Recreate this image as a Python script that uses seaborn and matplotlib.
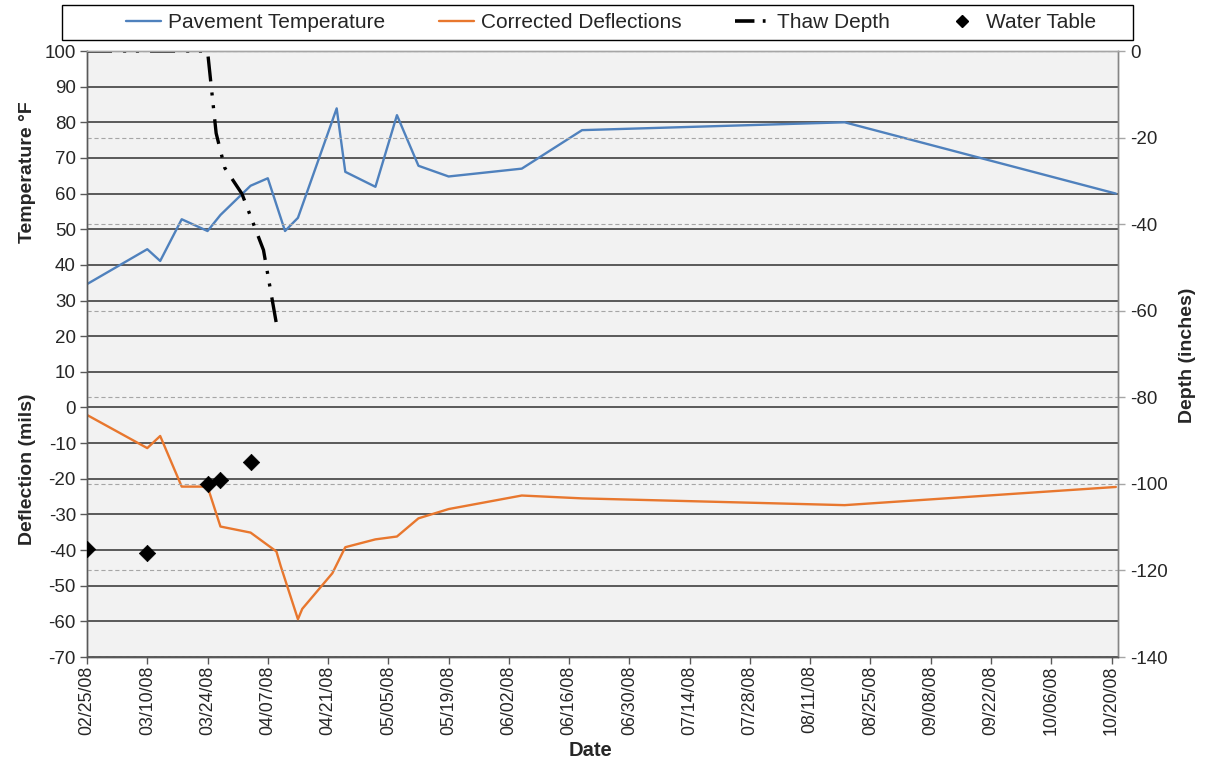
import matplotlib
matplotlib.use("Agg")
import matplotlib.pyplot as plt
import matplotlib.dates as mdates
from matplotlib.lines import Line2D
from matplotlib.patches import Rectangle
import seaborn as sns
import pandas as pd

# ---------------- data ----------------
temp_dates = ["2008-02-25", "2008-03-10", "2008-03-13", "2008-03-18", "2008-03-24",
              "2008-03-27", "2008-04-03", "2008-04-07", "2008-04-11", "2008-04-14",
              "2008-04-23", "2008-04-25", "2008-05-02", "2008-05-07", "2008-05-12",
              "2008-05-19", "2008-06-05", "2008-06-19", "2008-08-19", "2008-10-21"]
temp_values = [34.6, 44.4, 41.1, 52.8, 49.5, 54.0, 62.2, 64.3, 49.5, 53.2,
               83.9, 66.1, 61.9, 82.0, 67.8, 64.8, 67.0, 77.8, 80.0, 60.0]

defl_dates = ["2008-02-25", "2008-03-10", "2008-03-13", "2008-03-18", "2008-03-24",
              "2008-03-27", "2008-04-03", "2008-04-09", "2008-04-10", "2008-04-14",
              "2008-04-15", "2008-04-22", "2008-04-25", "2008-05-02", "2008-05-07",
              "2008-05-12", "2008-05-19", "2008-06-05", "2008-06-19", "2008-08-19",
              "2008-10-21"]
defl_values = [-2.1, -11.4, -8.0, -22.2, -22.2, -33.4, -35.1, -40.4, -44.5, -59.4,
               -56.5, -46.5, -39.2, -37.0, -36.2, -31.1, -28.5, -24.7, -25.5, -27.4,
               -22.3]

thaw_dates = ["2008-02-25", "2008-03-24", "2008-03-26", "2008-03-28", "2008-04-01",
              "2008-04-06", "2008-04-09"]
thaw_values = [0, 0, -19, -27, -33, -46, -63]

water_dates = ["2008-02-25", "2008-03-10", "2008-03-24", "2008-03-27", "2008-04-03"]
water_values = [-115, -116, -100, -99, -95]

x_start, x_end = "2008-02-25", "2008-10-21"
tick_dates = pd.date_range("2008-02-25", "2008-10-20", freq="14D")
left_ticks = list(range(-70, 101, 10))
right_ticks = list(range(-140, 1, 20))

# ---------------- style ----------------
sns.set_theme(style="white")
plt.rcParams["font.family"] = ["Liberation Sans", "DejaVu Sans"]
plt.rcParams["lines.scale_dashes"] = False
plt.rcParams["axes.unicode_minus"] = False

BLUE = "#4F81BD"
ORANGE = "#E8772E"
TXT = "#262626"

fig = plt.figure(figsize=(12.11, 7.65), dpi=100)
ax = fig.add_axes([87 / 1211, 1 - 657 / 765, (1118 - 87) / 1211, (657 - 51) / 765])
ax.set_facecolor("#F2F2F2")
ax2 = ax.twinx()
ax2.patch.set_visible(False)

td = pd.to_datetime(temp_dates)
dd = pd.to_datetime(defl_dates)
thd = pd.to_datetime(thaw_dates)
wd = pd.to_datetime(water_dates)

sns.lineplot(x=td, y=temp_values, ax=ax, color=BLUE, lw=1.7, sort=False)
sns.lineplot(x=dd, y=defl_values, ax=ax, color=ORANGE, lw=1.7, sort=False)
sns.lineplot(x=thd, y=thaw_values, ax=ax2, color="black", lw=2.4, sort=False)
thaw_line = ax2.get_lines()[-1]
thaw_line.set_linestyle((0, (18, 8, 2.2, 7, 2.2, 8)))
thaw_line.set_dash_capstyle("butt")
sns.scatterplot(x=wd, y=water_values, ax=ax2, color="black", marker="D", s=70,
                edgecolor="black", linewidth=0.5, zorder=5)

# axes limits / ticks
ax.set_xlim(pd.Timestamp(x_start), pd.Timestamp(x_end) + pd.Timedelta(hours=12))
ax.set_ylim(-70, 100)
ax2.set_ylim(-140, 0)
ax.set_yticks(left_ticks)
ax2.set_yticks(right_ticks)
ax.set_xticks(tick_dates)
ax.xaxis.set_major_formatter(mdates.DateFormatter("%m/%d/%y"))
for lab in ax.get_xticklabels():
    lab.set_rotation(90)

ax.tick_params(axis="x", direction="out", length=5, width=1, color="#595959",
               labelsize=12.8, labelcolor=TXT, pad=1, bottom=True)
ax.tick_params(axis="y", direction="out", length=5, width=1, color="#595959",
               labelsize=13.5, labelcolor=TXT, pad=3, left=True)
ax2.tick_params(axis="y", direction="out", length=5, width=1, color="#A6A6A6",
                labelsize=13.5, labelcolor=TXT, pad=4, right=True)

# grids
ax.yaxis.grid(True, color="#303030", lw=1.1)
ax.xaxis.grid(False)
ax2.yaxis.grid(True, color="#A6A6A6", lw=0.8, linestyle=(0, (3, 2)))
ax2.xaxis.grid(False)
ax.set_axisbelow(True)
ax2.set_axisbelow(True)

for a in (ax, ax2):
    a.spines["left"].set_color("#595959")
    a.spines["bottom"].set_color("#595959")
    a.spines["right"].set_color("#868686")
    a.spines["top"].set_color("#A6A6A6")
    for s in a.spines.values():
        s.set_linewidth(1.0)

ax.set_xlabel("")
ax.set_ylabel("")
ax2.set_ylabel("")

# axis titles
fig.text(28 / 1211, 1 - 172 / 765, "Temperature °F", rotation=90, ha="center", va="center",
         fontsize=14, fontweight="bold", color=TXT)
fig.text(28 / 1211, 1 - 469 / 765, "Deflection (mils)", rotation=90, ha="center", va="center",
         fontsize=14, fontweight="bold", color=TXT)
fig.text(1188 / 1211, 1 - 355 / 765, "Depth (inches)", rotation=90, ha="center", va="center",
         fontsize=14, fontweight="bold", color=TXT)
fig.text(591 / 1211, 1 - 751 / 765, "Date", ha="center", va="center",
         fontsize=14.5, fontweight="bold", color=TXT)

# legend box and legend
fig.patches.append(Rectangle((62 / 1211, 1 - 40 / 765), (1133 - 62) / 1211, 35 / 765,
                             transform=fig.transFigure, facecolor="white",
                             edgecolor="black", lw=1.0, zorder=0))
handles = [
    Line2D([], [], color=BLUE, lw=1.7),
    Line2D([], [], color=ORANGE, lw=1.7),
    Line2D([], [], color="black", lw=2.6, linestyle=(0, (14, 6, 2, 8))),
    Line2D([], [], color="black", marker="D", linestyle="None", markersize=6.5),
]
labels = ["Pavement Temperature", "Corrected Deflections", "Thaw Depth", "Water Table"]
fig.legend(handles, labels, loc="center", bbox_to_anchor=(611 / 1211, 1 - 22.5 / 765),
           ncol=4, frameon=False, fontsize=15, handlelength=1.7, handletextpad=0.3,
           columnspacing=2.6, labelcolor=TXT)

fig.savefig("out.png", dpi=100)
